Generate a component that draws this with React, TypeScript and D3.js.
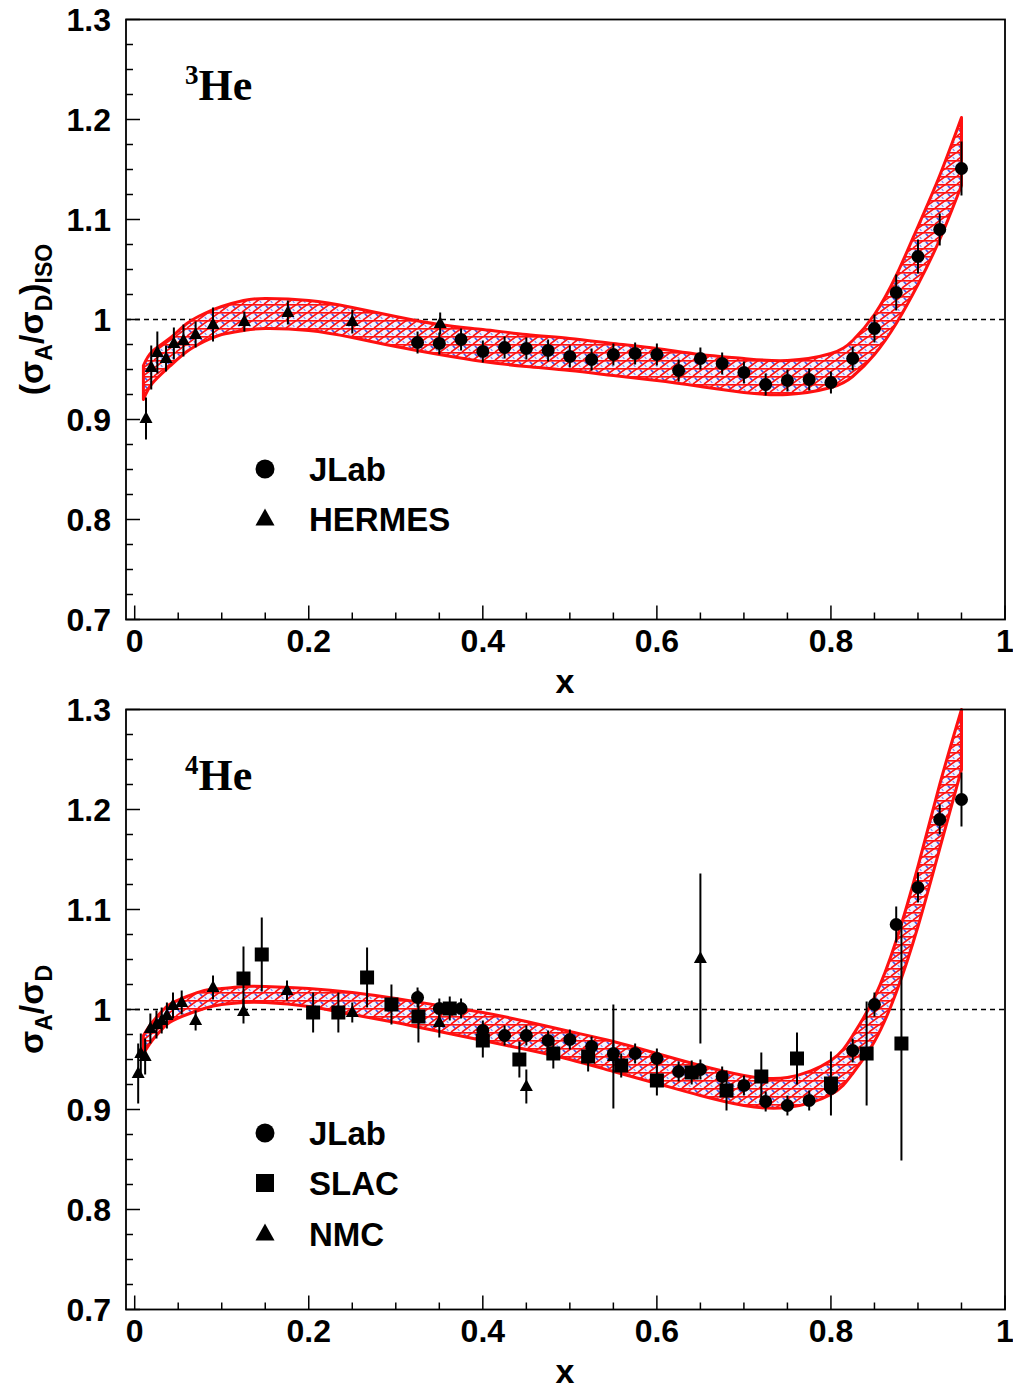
import React from "react";
import * as d3 from "d3";

// ---------- axis ticks ----------
const X_TICKS = [0, 0.2, 0.4, 0.6, 0.8, 1];
const Y_TICKS = [0.7, 0.8, 0.9, 1.0, 1.1, 1.2, 1.3];

// ---------- 3He band ----------
const HE3_BAND_X = [0.01, 0.02, 0.04, 0.06, 0.08, 0.1, 0.125, 0.15, 0.2, 0.25, 0.3, 0.35, 0.4, 0.45, 0.5, 0.55, 0.6, 0.65, 0.7, 0.75, 0.8, 0.825, 0.85, 0.875, 0.9, 0.925, 0.95];
const HE3_BAND_C = [0.937, 0.952, 0.967, 0.982, 0.992, 0.999, 1.004, 1.006, 1.004, 0.997, 0.988, 0.980, 0.974, 0.969, 0.965, 0.960, 0.955, 0.949, 0.944, 0.942, 0.949, 0.961, 0.985, 1.020, 1.064, 1.112, 1.168];
const HE3_BAND_HW = [0.017, 0.016, 0.014, 0.014, 0.014, 0.014, 0.015, 0.015, 0.015, 0.015, 0.015, 0.015, 0.016, 0.016, 0.016, 0.016, 0.016, 0.016, 0.017, 0.017, 0.017, 0.018, 0.020, 0.024, 0.029, 0.032, 0.034];

// ---------- 3He data ----------
const HE3_JLAB_X = [0.325, 0.35, 0.375, 0.4, 0.425, 0.45, 0.475, 0.5, 0.525, 0.55, 0.575, 0.6, 0.625, 0.65, 0.675, 0.7, 0.725, 0.75, 0.775, 0.8, 0.825, 0.85, 0.875, 0.9, 0.925, 0.95];
const HE3_JLAB_Y = [0.977, 0.976, 0.980, 0.968, 0.972, 0.971, 0.969, 0.963, 0.960, 0.965, 0.966, 0.965, 0.949, 0.961, 0.956, 0.947, 0.935, 0.939, 0.940, 0.937, 0.961, 0.991, 1.027, 1.063, 1.090, 1.151];
const HE3_JLAB_E = [0.011, 0.011, 0.011, 0.011, 0.011, 0.011, 0.011, 0.011, 0.011, 0.011, 0.011, 0.011, 0.011, 0.011, 0.011, 0.011, 0.011, 0.011, 0.011, 0.011, 0.012, 0.014, 0.018, 0.017, 0.016, 0.027];

const HE3_HERMES_X = [0.013, 0.019, 0.026, 0.036, 0.045, 0.056, 0.070, 0.090, 0.126, 0.176, 0.250, 0.351];
const HE3_HERMES_Y = [0.901, 0.952, 0.967, 0.961, 0.976, 0.979, 0.985, 0.995, 0.998, 1.007, 0.998, 0.996];
const HE3_HERMES_E = [0.021, 0.022, 0.021, 0.013, 0.016, 0.016, 0.013, 0.017, 0.010, 0.012, 0.012, 0.011];

// ---------- 4He band ----------
const HE4_BAND_X = [0.01, 0.02, 0.03, 0.04, 0.06, 0.08, 0.1, 0.125, 0.15, 0.2, 0.25, 0.3, 0.35, 0.4, 0.45, 0.5, 0.55, 0.6, 0.65, 0.7, 0.75, 0.8, 0.825, 0.85, 0.875, 0.9, 0.925, 0.95];
const HE4_BAND_C = [0.965, 0.978, 0.988, 0.996, 1.004, 1.010, 1.013, 1.015, 1.015, 1.012, 1.006, 0.999, 0.991, 0.983, 0.974, 0.964, 0.953, 0.941, 0.929, 0.919, 0.917, 0.932, 0.955, 0.990, 1.043, 1.113, 1.193, 1.270];
const HE4_BAND_HW = [0.009, 0.009, 0.009, 0.009, 0.009, 0.009, 0.008, 0.008, 0.008, 0.009, 0.011, 0.012, 0.013, 0.014, 0.014, 0.014, 0.015, 0.015, 0.015, 0.015, 0.015, 0.017, 0.019, 0.022, 0.026, 0.030, 0.032, 0.030];

// ---------- 4He data ----------
const HE4_JLAB_X = [0.325, 0.35, 0.375, 0.4, 0.425, 0.45, 0.475, 0.5, 0.525, 0.55, 0.575, 0.6, 0.625, 0.65, 0.675, 0.7, 0.725, 0.75, 0.775, 0.8, 0.825, 0.85, 0.875, 0.9, 0.925, 0.95];
const HE4_JLAB_Y = [1.012, 1.001, 1.001, 0.979, 0.974, 0.974, 0.969, 0.970, 0.963, 0.956, 0.956, 0.951, 0.938, 0.940, 0.933, 0.924, 0.908, 0.904, 0.909, 0.921, 0.959, 1.005, 1.085, 1.122, 1.190, 1.210];
const HE4_JLAB_E = [0.010, 0.010, 0.010, 0.010, 0.010, 0.010, 0.010, 0.010, 0.010, 0.010, 0.010, 0.010, 0.010, 0.010, 0.010, 0.010, 0.010, 0.010, 0.010, 0.010, 0.012, 0.012, 0.018, 0.015, 0.015, 0.027];

const HE4_SLAC_X = [0.125, 0.146, 0.205, 0.234, 0.267, 0.295, 0.326, 0.362, 0.40, 0.442, 0.481, 0.521, 0.559, 0.60, 0.64, 0.68, 0.72, 0.761, 0.80, 0.841, 0.881];
const HE4_SLAC_Y = [1.031, 1.055, 0.997, 0.997, 1.032, 1.005, 0.993, 1.001, 0.969, 0.950, 0.956, 0.953, 0.944, 0.929, 0.937, 0.919, 0.933, 0.951, 0.926, 0.956, 0.966];
const HE4_SLAC_E = [0.032, 0.037, 0.020, 0.020, 0.030, 0.020, 0.026, 0.012, 0.017, 0.018, 0.015, 0.015, 0.012, 0.015, 0.012, 0.020, 0.024, 0.026, 0.032, 0.052, 0.117];

const HE4_NMC_X = [0.004, 0.007, 0.012, 0.018, 0.025, 0.031, 0.037, 0.044, 0.054, 0.070, 0.090, 0.125, 0.175, 0.25, 0.35, 0.45, 0.55, 0.65];
const HE4_NMC_Y = [0.936, 0.956, 0.953, 0.981, 0.985, 0.989, 0.994, 1.004, 1.007, 0.989, 1.022, 0.998, 1.019, 0.997, 0.987, 0.923, 0.953, 1.051];
const HE4_NMC_E = [0.030, 0.020, 0.018, 0.015, 0.014, 0.013, 0.013, 0.013, 0.012, 0.010, 0.012, 0.012, 0.010, 0.010, 0.015, 0.017, 0.052, 0.085];

// ---------- layout ----------
const W = 1013;
const H = 1389;
const LEFT = 126;
const RIGHT = 1005;
const FONT = "'Liberation Sans', Arial, Helvetica, sans-serif";
const SERIF = "'Liberation Serif', 'Times New Roman', serif";

type Shape = "circle" | "square" | "triangle";
type Series = { name: string; shape: Shape; x: number[]; y: number[]; e: number[] };

function Marker({ shape, cx, cy, s }: { shape: Shape; cx: number; cy: number; s: number }) {
  if (shape === "circle") return <circle cx={cx} cy={cy} r={s} fill="#000" />;
  if (shape === "square") return <rect x={cx - s} y={cy - s} width={2 * s} height={2 * s} fill="#000" />;
  const h = s * 1.8;
  return (
    <path
      d={`M${cx},${cy - h * 0.62} L${cx + s},${cy + h * 0.38} L${cx - s},${cy + h * 0.38} Z`}
      fill="#000"
    />
  );
}

function Panel(props: {
  top: number;
  bottom: number;
  bandX: number[];
  bandC: number[];
  bandHW: number[];
  series: Series[];
  nucleus: string;
  titleParts: { t: string; sub?: boolean }[];
  legendY: number[];
  id: string;
}) {
  const { top, bottom, bandX, bandC, bandHW, series, nucleus, titleParts, legendY, id } = props;
  const x = d3.scaleLinear().domain([-0.01, 1]).range([LEFT, RIGHT]);
  const y = d3.scaleLinear().domain([0.7, 1.3]).range([bottom, top]);

  const bandData = bandX.map((bx, i) => ({ x: bx, lo: bandC[i] - bandHW[i], hi: bandC[i] + bandHW[i] }));
  const area = d3
    .area<{ x: number; lo: number; hi: number }>()
    .x((d) => x(d.x))
    .y0((d) => y(d.lo))
    .y1((d) => y(d.hi))
    .curve(d3.curveNatural);
  const bandPath = area(bandData) || "";

  const yMinor = d3.range(0.7, 1.3001, 0.025);
  const xMinor = d3.range(0, 1.0001, 0.05);

  const fmt = (v: number) => String(Math.round(v * 10) / 10);

  return (
    <g>
      {/* dashed unity line */}
      <line x1={LEFT} x2={RIGHT} y1={y(1)} y2={y(1)} stroke="#000" strokeWidth={1.4} strokeDasharray="5,4" />

      {/* band */}
      <path d={bandPath} fill={`url(#hatch-${id})`} stroke="#ff1010" strokeWidth={3} strokeLinejoin="round" />

      {/* data */}
      {series.map((s) => (
        <g key={s.name}>
          {s.x.map((xv, i) => (
            <line
              key={"e" + i}
              x1={x(xv)}
              x2={x(xv)}
              y1={y(s.y[i] - s.e[i])}
              y2={y(s.y[i] + s.e[i])}
              stroke="#000"
              strokeWidth={2}
            />
          ))}
          {s.x.map((xv, i) => (
            <Marker key={"m" + i} shape={s.shape} cx={x(xv)} cy={y(s.y[i])} s={s.shape === "square" ? 7 : 6.5} />
          ))}
        </g>
      ))}

      {/* frame */}
      <rect x={LEFT} y={top} width={RIGHT - LEFT} height={bottom - top} fill="none" stroke="#000" strokeWidth={1.8} />

      {/* y ticks */}
      {yMinor.map((v, i) => {
        const major = Math.abs(v * 10 - Math.round(v * 10)) < 1e-6;
        return <line key={"ym" + i} x1={LEFT} x2={LEFT + (major ? 14 : 7)} y1={y(v)} y2={y(v)} stroke="#000" strokeWidth={1.5} />;
      })}
      {Y_TICKS.map((v) => (
        <text key={"yl" + v} x={111} y={y(v)} dy="0.36em" textAnchor="end" fontFamily={FONT} fontWeight="bold" fontSize={32} fill="#000">
          {fmt(v)}
        </text>
      ))}

      {/* x ticks */}
      {xMinor.map((v, i) => {
        const major = Math.abs(v * 5 - Math.round(v * 5)) < 1e-6;
        return <line key={"xm" + i} x1={x(v)} x2={x(v)} y1={bottom} y2={bottom - (major ? 14 : 7)} stroke="#000" strokeWidth={1.5} />;
      })}
      {X_TICKS.map((v) => (
        <text key={"xl" + v} x={x(v)} y={bottom + 32} textAnchor="middle" fontFamily={FONT} fontWeight="bold" fontSize={32} fill="#000">
          {fmt(v)}
        </text>
      ))}
      <text x={565} y={bottom + 73} textAnchor="middle" fontFamily={FONT} fontWeight="bold" fontSize={34} fill="#000">
        x
      </text>

      {/* y title */}
      <text
        transform={`translate(43,${(top + bottom) / 2}) rotate(-90)`}
        textAnchor="middle"
        fontFamily={FONT}
        fontWeight="bold"
        fontSize={34}
        fill="#000"
      >
        {titleParts.map((p, i) => {
          const prevSub = i > 0 && titleParts[i - 1].sub;
          const dy = p.sub ? (prevSub ? 0 : 9) : prevSub ? -9 : 0;
          return (
            <tspan key={i} dy={dy} fontSize={p.sub ? 23 : 34}>
              {p.t}
            </tspan>
          );
        })}
      </text>

      {/* nucleus label */}
      <text x={185} y={top + 80} fontFamily={SERIF} fontWeight="bold" fontSize={44} fill="#000">
        <tspan fontSize={27} dy={-16}>
          {nucleus}
        </tspan>
        <tspan dy={16}>He</tspan>
      </text>

      {/* legend */}
      {series.map((s, i) => (
        <g key={"lg" + s.name}>
          <Marker shape={s.shape} cx={265} cy={legendY[i]} s={s.shape === "circle" ? 9.5 : s.shape === "square" ? 9 : 9.5} />
          <text x={309} y={legendY[i]} dy="0.36em" fontFamily={FONT} fontWeight="bold" fontSize={33} fill="#000">
            {s.name}
          </text>
        </g>
      ))}
    </g>
  );
}

function Hatch({ id }: { id: string }) {
  return (
    <pattern id={`hatch-${id}`} patternUnits="userSpaceOnUse" width={11} height={8}>
      <rect width={11} height={8} fill="#f2f3ff" />
      <path d="M1.8,1.8 L4.6,4.6" stroke="#4254e6" strokeWidth={1.6} />
      <path d="M6.8,5.2 L8.4,6.8" stroke="#7480ee" strokeWidth={1.2} />
      <path d="M0,0.8 H11" stroke="#ff1212" strokeWidth={1.7} />
      <path d="M-11,8 L0,0 M0,8 L11,0 M11,8 L22,0" stroke="#ff1212" strokeWidth={1.7} />
    </pattern>
  );
}

export default function App() {
  const he3Series: Series[] = [
    { name: "JLab", shape: "circle", x: HE3_JLAB_X, y: HE3_JLAB_Y, e: HE3_JLAB_E },
    { name: "HERMES", shape: "triangle", x: HE3_HERMES_X, y: HE3_HERMES_Y, e: HE3_HERMES_E },
  ];
  const he4Series: Series[] = [
    { name: "JLab", shape: "circle", x: HE4_JLAB_X, y: HE4_JLAB_Y, e: HE4_JLAB_E },
    { name: "SLAC", shape: "square", x: HE4_SLAC_X, y: HE4_SLAC_Y, e: HE4_SLAC_E },
    { name: "NMC", shape: "triangle", x: HE4_NMC_X, y: HE4_NMC_Y, e: HE4_NMC_E },
  ];
  return (
    <div style={{ position: "absolute", left: 0, top: 0, width: W, height: H, background: "#fff" }}>
      <svg width={W} height={H} viewBox={`0 0 ${W} ${H}`} style={{ display: "block" }}>
        <defs>
          <Hatch id="a" />
          <Hatch id="b" />
        </defs>
        <rect width={W} height={H} fill="#fff" />
        <Panel
          id="a"
          top={19.5}
          bottom={619.5}
          bandX={HE3_BAND_X}
          bandC={HE3_BAND_C}
          bandHW={HE3_BAND_HW}
          series={he3Series}
          nucleus="3"
          titleParts={[
            { t: "(σ" },
            { t: "A", sub: true },
            { t: "/σ" },
            { t: "D", sub: true },
            { t: ")" },
            { t: "ISO", sub: true },
          ]}
          legendY={[469, 519]}
        />
        <Panel
          id="b"
          top={709.5}
          bottom={1309.5}
          bandX={HE4_BAND_X}
          bandC={HE4_BAND_C}
          bandHW={HE4_BAND_HW}
          series={he4Series}
          nucleus="4"
          titleParts={[{ t: "σ" }, { t: "A", sub: true }, { t: "/σ" }, { t: "D", sub: true }]}
          legendY={[1133, 1183, 1234]}
        />
      </svg>
    </div>
  );
}
